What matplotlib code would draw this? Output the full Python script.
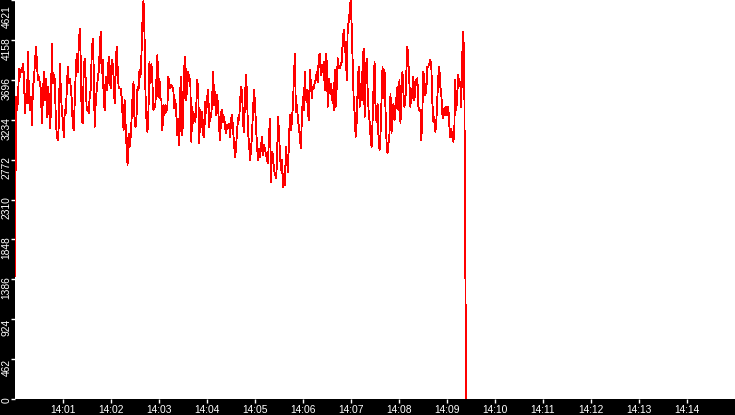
import pandas as pd
import matplotlib
matplotlib.use('Agg')
import matplotlib.pyplot as plt
from matplotlib.transforms import ScaledTranslation

# sampled roughly every 1.25 s from 14:00:00
start = '2024-01-01 14:00:00'
step = '1245ms'

level = [
    1424,
    3501, 3346, 3462, 3829, 3732, 3809, 3790, 3887, 3732, 3308, 3539, 3423, 4022, 3501, 3346, 3501,
    3173, 3616, 3694, 3887, 4080, 3906, 3694, 3732, 3655, 3578, 3192, 3501, 3790, 3462, 3713, 3269,
    3616, 3501, 3134, 3308, 4118, 3655, 3752, 3694, 3230, 3037, 2999, 3173, 3887, 3578, 3346, 3230,
    3037, 3346, 3308, 3578, 3848, 3655, 3713, 3616, 3462, 3173, 3115, 3462, 3790, 4002, 3790, 4080,
    4292, 3925, 3230, 3192, 3809, 3945, 3694, 3346, 3385, 3308, 3501, 3578, 3983,
    4168, 3848, 3153, 3423, 3578, 3694, 3790, 4022, 4253, 3771, 3925, 3501, 3346, 3732, 3578, 3655,
    3964, 3771, 3597, 3925, 3887, 3732, 3423, 3752, 4080, 3848, 3616, 3597, 3597, 3501, 3288, 3115,
    3462, 3192, 2922, 2709, 3076, 2922, 3018, 3230, 3501, 3674, 3230, 3153, 3269, 3616, 3578, 3809,
    3732, 4002, 4388, 4620, 4234, 3539, 3230, 3095, 3346, 3906, 3655, 3887, 3655, 3346, 3366, 3423,
    3694, 3983, 3501, 3713, 3481, 3462, 3115, 3404, 3288, 3404, 3327, 3385, 3732, 3616,
    3597, 3636, 3616, 3578, 3366, 3462, 3288, 3057, 3250, 2941, 3597, 3732, 3057, 3346, 3848, 3964,
    3462, 3694, 3790, 3674, 3713, 2980, 3385, 3192, 3308, 3211, 3385, 3694, 3578, 2960, 3346, 3153,
    3327, 3057, 3037, 3443, 3308, 3501, 3578, 3153, 3308, 3269, 3501, 3790, 3404, 3559, 3288, 3520,
    3366, 3134, 2999, 3327, 3346, 3211, 3269, 3134, 3076, 3173, 3134, 3192, 3037, 3250, 3288, 3115,
    2941, 2806, 2922, 3115, 3250, 3230, 3443, 3616, 3559, 3192, 3095, 3539, 3752, 3501,
    3076, 2960, 2767, 2883, 3076, 3346, 3578, 3423, 3153, 2922, 2767, 2902, 2806, 2922, 3037, 2825,
    2941, 2883, 2844, 2767, 2729, 3037, 3250, 2516, 2864, 2825, 2651, 2613, 2555, 2709, 3269, 3115,
    2844, 2651, 2767, 2458, 2613, 2478, 2922, 2787, 2632, 2960, 3288, 3115, 3211, 3404, 3713, 4002,
    3327, 3404, 3250, 3153, 3037, 2902, 3250, 3501, 3346, 3790, 3462, 3578, 3327, 3230, 3809, 3674,
    3481, 3616, 3597, 3674, 3694, 3790, 3674, 3964, 4002, 3752, 3867, 3790, 3906, 3578,
    4002, 3906, 3385, 3713, 3539, 3655, 3462, 3578, 3346, 3809, 3385, 3616, 3945, 3848, 3829, 3867,
    3906, 4138, 4273, 4022, 4138, 3694, 4273, 4369, 4485, 4620, 4330, 3906, 3481, 3308, 3037, 3192,
    3578, 3848, 3385, 3655, 3462, 3867, 4060, 3269, 3694, 3945, 3597, 3346, 3211, 3037, 2922, 3211,
    3616, 3906, 3346, 3211, 3423, 3018, 2883, 3076, 3462, 3848, 3481, 3809, 3346, 2980, 2844, 2960,
    3076, 3539, 3076, 3308, 3423, 3230, 3346, 3501, 3616, 3346, 3694, 3192, 3539, 3790,
    3539, 3385, 3462, 3809, 4080, 3887, 3655, 3385, 3597, 3481, 3732, 3462, 3616, 3694, 3713, 3385,
    3346, 3346, 2999, 3327, 3790, 3694, 3520, 3578, 3848, 3848, 3887, 3925, 3848, 3443, 3211, 3269,
    3095, 3211, 3462, 3732, 3848, 3616, 3539, 3308, 3250, 3366, 3288, 3385, 3288, 3385, 3173, 3037,
    3134, 3037, 2980, 3057, 3694, 3346, 3501, 3752, 3655, 3674, 3385, 3964, 4253, 3945,
    1810, 0,
]

y_ticks = [0, 462, 924, 1386, 1848, 2310, 2772, 3234, 3696, 4158, 4621]
x_ticks = ['14:01', '14:02', '14:03', '14:04', '14:05', '14:06', '14:07',
           '14:08', '14:09', '14:10', '14:11', '14:12', '14:13', '14:14']
x_range = ('14:00', '14:15')

day = start.split()[0]
t = pd.date_range(start, periods=len(level), freq=step)

plt.rcParams['font.family'] = ['Liberation Sans', 'DejaVu Sans']

fig = plt.figure(figsize=(7.35, 4.15), dpi=100, facecolor='black')
ax = fig.add_axes([15 / 735, 16 / 415, 720 / 735, 399 / 415])
ax.set_facecolor('white')

ax.plot(t, level, color='#ff0000', lw=0.6, antialiased=False)

ax.set_xlim(pd.Timestamp(day + ' ' + x_range[0]), pd.Timestamp(day + ' ' + x_range[1]))
ax.set_ylim(0, y_ticks[-1])
ax.set_xticks([pd.Timestamp(day + ' ' + s) for s in x_ticks], x_ticks)
ax.set_yticks(y_ticks, [str(v) for v in y_ticks])

for s in ax.spines.values():
    s.set_visible(False)
ax.tick_params(colors='white', length=3.2, width=1, labelsize=7.4)
ax.tick_params(axis='x', pad=0.8)
ax.tick_params(axis='y', labelrotation=90, pad=-0.8)

# labels sit a little below their tick, clamped at the ends
labels = ax.get_yticklabels()
for i, lbl in enumerate(labels):
    dy = -6
    if i == 0:
        dy = -1
    elif i == len(labels) - 1:
        dy = -12
    lbl.set_va('center')
    lbl.set_transform(lbl.get_transform() + ScaledTranslation(0, dy / 72, fig.dpi_scale_trans))

fig.savefig('out.png', dpi=100, facecolor='black')
